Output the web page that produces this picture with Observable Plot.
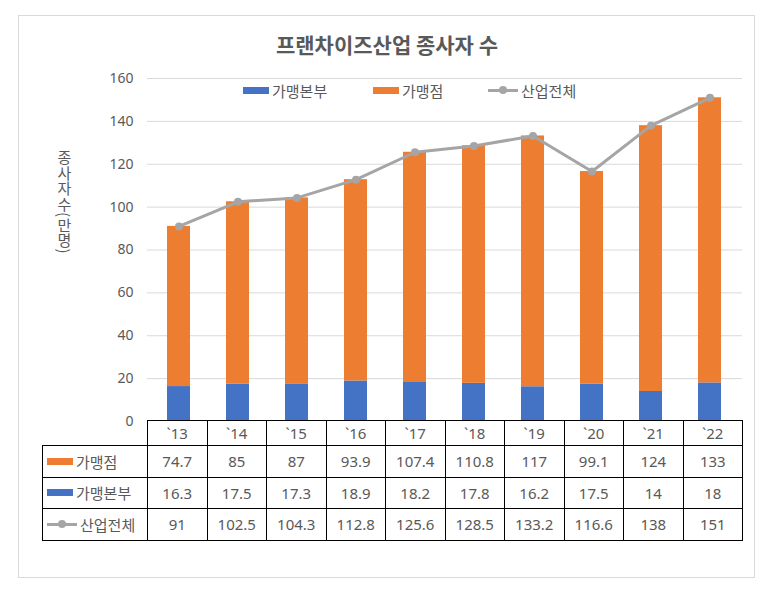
<!DOCTYPE html>
<html>
<head>
<meta charset="utf-8">
<script src="https://cdn.jsdelivr.net/npm/d3@7"></script>
<script src="https://cdn.jsdelivr.net/npm/@observablehq/plot@0.6"></script>
<style>
  html, body { margin: 0; padding: 0; background: #fff; }
  body { width: 772px; height: 601px; position: relative; overflow: hidden;
         font-family: "Noto Sans", "Noto Sans CJK KR", sans-serif; color: #595959; }
  #frame { position: absolute; left: 18px; top: 15px; width: 737px; height: 563px;
           border: 1px solid #d9d9d9; box-sizing: border-box; }
  #title { position: absolute; left: 18px; width: 738px; top: 29px; text-align: center;
           font-family: "Noto Sans CJK KR", sans-serif;
           font-size: 21px; font-weight: bold; color: #595959; line-height: 30px; }
  #chart { position: absolute; left: 0; top: 0; }
  #ylabel { position: absolute; left: 55px; top: 150px; writing-mode: vertical-rl;
            text-orientation: mixed; font-family: "Noto Sans CJK KR", sans-serif;
            font-size: 15px; letter-spacing: 0.5px; line-height: 18px; color: #595959; }
  #legend { position: absolute; top: 79px; left: 0; width: 772px; height: 22px; }
  .lg { position: absolute; top: 0; display: flex; align-items: center; height: 22px;
        font-family: "Noto Sans CJK KR", sans-serif;
        font-size: 15px; color: #595959; white-space: nowrap; }
  .sw { width: 26px; height: 7px; margin-right: 3px; }
  .lk { position: relative; width: 30px; height: 10px; margin-right: 3px; }
  .lk .ln { position: absolute; left: 0; right: 0; top: 3.5px; height: 3px; background: #a5a5a5; }
  .lk .dt { position: absolute; left: 11px; top: 1px; width: 8px; height: 8px; border-radius: 50%; background: #a5a5a5; }
  #tbl { position: absolute; left: 42px; top: 420px; border-collapse: collapse; table-layout: fixed;
         font-size: 15px; color: #595959; }
  #tbl td { border: 1px solid #000; text-align: center; padding: 0; }
  #tbl tr.hd td { height: 24px; }
  #tbl tr.rw td { height: 30.5px; }
  #tbl td.blank { border-top: none; border-left: none; }
  #tbl td.rl { text-align: left; font-family: "Noto Sans CJK KR", sans-serif; }
  .rlc { display: flex; align-items: center; padding-left: 4px; }
</style>
</head>
<body>
<div id="frame"></div>
<div id="title">프랜차이즈산업 종사자 수</div>
<div id="ylabel">종사자수(만명)</div>
<div id="chart"></div>
<div id="legend"></div>
<table id="tbl"></table>
<script>
// ---- data ----
const years = ["`13", "`14", "`15", "`16", "`17", "`18", "`19", "`20", "`21", "`22"];
const franchiseStores = [74.7, 85, 87, 93.9, 107.4, 110.8, 117, 99.1, 124, 133];   // 가맹점
const headquarters = [16.3, 17.5, 17.3, 18.9, 18.2, 17.8, 16.2, 17.5, 14, 18];     // 가맹본부
const industryTotal = [91, 102.5, 104.3, 112.8, 125.6, 128.5, 133.2, 116.6, 138, 151]; // 산업전체
const seriesNames = ["가맹본부", "가맹점", "산업전체"];
const yTicks = [0, 20, 40, 60, 80, 100, 120, 140, 160];

const colors = { "가맹본부": "#4472c4", "가맹점": "#ed7d31", "산업전체": "#a5a5a5" };

const stacked = [
  ...years.map((y, i) => ({ year: y, series: "가맹본부", value: headquarters[i] })),
  ...years.map((y, i) => ({ year: y, series: "가맹점", value: franchiseStores[i] }))
];
const totals = years.map((y, i) => ({ year: y, value: industryTotal[i] }));

const plot = Plot.plot({
  width: 772,
  height: 433,
  marginLeft: 147,
  marginRight: 30,
  marginTop: 78,
  marginBottom: 12,
  style: { fontFamily: "'Noto Sans', 'Noto Sans CJK KR', sans-serif", fontSize: "14px", color: "#595959", background: "transparent", overflow: "visible" },
  x: { domain: years, paddingInner: 0.61, paddingOuter: 0.305, axis: null },
  y: { domain: [0, 160], ticks: yTicks, label: null },
  color: { domain: ["가맹본부", "가맹점"], range: [colors["가맹본부"], colors["가맹점"]] },
  marks: [
    Plot.ruleY(yTicks.filter(d => d > 0), { stroke: "#d9d9d9", strokeWidth: 1 }),
    Plot.axisY({ ticks: yTicks, tickSize: 0, tickPadding: 14, label: null, fontSize: 14, fill: "#595959" }),
    Plot.barY(stacked, { x: "year", y: "value", fill: "series", order: ["가맹본부", "가맹점"] }),
    Plot.lineY(totals, { x: "year", y: "value", stroke: colors["산업전체"], strokeWidth: 3, strokeLinejoin: "round" }),
    Plot.dot(totals, { x: "year", y: "value", r: 4, fill: colors["산업전체"], stroke: "none" })
  ]
});
document.getElementById("chart").appendChild(plot);

// ---- top legend ----
const legend = document.getElementById("legend");
const legendPos = { "가맹본부": 243, "가맹점": 373, "산업전체": 488 };
seriesNames.forEach(name => {
  const item = document.createElement("div");
  item.className = "lg";
  item.style.left = legendPos[name] + "px";
  item.innerHTML = (name === "산업전체"
    ? `<div class="lk"><div class="ln"></div><div class="dt"></div></div>`
    : `<div class="sw" style="background:${colors[name]}"></div>`) + `<span>${name}</span>`;
  legend.appendChild(item);
});

// ---- data table ----
const tbl = document.getElementById("tbl");
const colg = document.createElement("colgroup");
colg.innerHTML = `<col style="width:105px">` + years.map(() => `<col style="width:59.5px">`).join("");
tbl.appendChild(colg);
const hd = document.createElement("tr");
hd.className = "hd";
hd.innerHTML = `<td class="blank"></td>` + years.map(y => `<td>${y}</td>`).join("");
tbl.appendChild(hd);
const rows = [
  { name: "가맹점", values: franchiseStores, key: `<div class="sw" style="background:${colors["가맹점"]}"></div>` },
  { name: "가맹본부", values: headquarters, key: `<div class="sw" style="background:${colors["가맹본부"]}"></div>` },
  { name: "산업전체", values: industryTotal, key: `<div class="lk" style="width:30px"><div class="ln"></div><div class="dt"></div></div>` }
];
rows.forEach(r => {
  const tr = document.createElement("tr");
  tr.className = "rw";
  tr.innerHTML = `<td class="rl"><div class="rlc">${r.key}<span>${r.name}</span></div></td>` +
    r.values.map(v => `<td>${String(v)}</td>`).join("");
  tbl.appendChild(tr);
});
</script>
</body>
</html>
